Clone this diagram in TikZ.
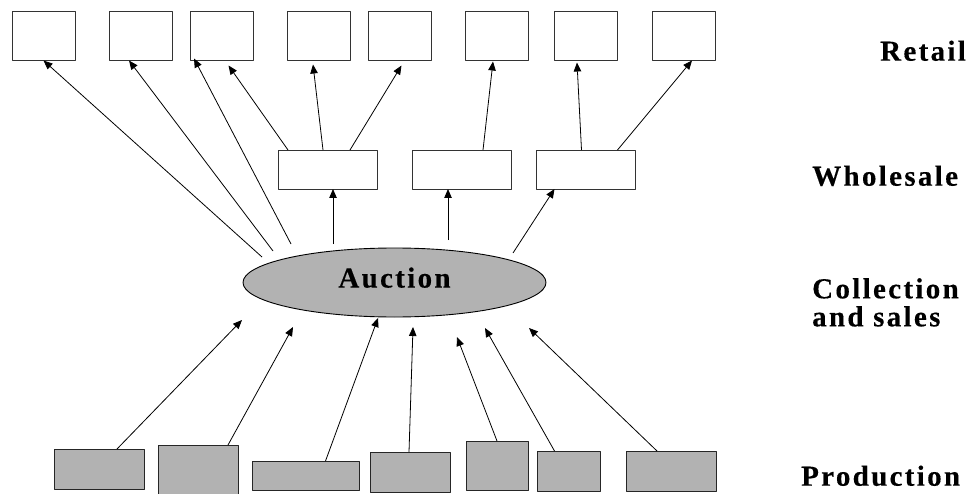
\documentclass[tikz,border=0pt]{standalone}
\usepackage{fontspec}
\setmainfont{Liberation Serif}
\usetikzlibrary{shapes.geometric,arrows.meta}

\begin{document}
\begin{tikzpicture}[x=1pt, y=-1pt, line join=round, >={Triangle[length=9pt,width=7.5pt]},
	retail/.style={draw=black!80, line width=0.9pt, minimum width=63pt, minimum height=49pt, inner sep=0pt, outer sep=0pt},
	whole/.style={retail, minimum width=99pt, minimum height=39pt},
	prod/.style={draw=black!85, line width=0.9pt, fill=black!30, inner sep=0pt, outer sep=0pt},
	tier/.style={font=\fontsize{29}{28}\selectfont\bfseries\addfontfeature{LetterSpace=8,FakeBold=0.3}, inner sep=0pt},
	link/.style={->, line width=0.8pt}]
			\useasboundingbox (0,0) rectangle (973,494);
			\node[retail] (r1) at (43.5,36) {};
			\node[retail] (r2) at (141,36) {};
			\node[retail] (r3) at (221.5,36) {};
			\node[retail] (r4) at (319,36) {};
			\node[retail] (r5) at (399.5,36) {};
			\node[retail] (r6) at (497,36) {};
			\node[retail] (r7) at (586,36) {};
			\node[retail] (r8) at (684,36) {};
			\node[whole] (w1) at (328,169.5) {};
			\node[whole] (w2) at (462,169.5) {};
			\node[whole] (w3) at (585.5,169.5) {};
			\node[ellipse, draw=black, line width=0.9pt, fill=black!30, minimum width=303pt, minimum height=69pt, tier, text depth=10pt] (auc) at (394.5,282.5) {Auction};
			\node[prod, minimum width=90pt, minimum height=40pt] (p1) at (99,469) {};
			\node[prod, minimum width=80pt, minimum height=51pt] (p2) at (198,470.5) {};
			\node[prod, minimum width=107pt, minimum height=29pt] (p3) at (305.5,475.5) {};
			\node[prod, minimum width=80pt, minimum height=40pt] (p4) at (410,472) {};
			\node[prod, minimum width=62pt, minimum height=49pt] (p5) at (497,465.5) {};
			\node[prod, minimum width=63pt, minimum height=40pt] (p6) at (568.5,471) {};
			\node[prod, minimum width=90pt, minimum height=40pt] (p7) at (671,471) {};
			\node[tier, anchor=base west] (lret) at (880,60.7) {Retail};
			\node[tier, anchor=base west] (lwho) at (812,185.7) {Wholesale};
			\node[tier, anchor=north west, align=left] (lcol) at (812,278) {Collection\\and sales};
			\node[tier, anchor=base west] (lpro) at (801,485.7) {Production};
			\coordinate (t1) at (262,257);
			\coordinate (t2) at (273,251);
			\coordinate (t3) at (291,244);
			\coordinate (t4) at (333,244);
			\coordinate (t5) at (448,240);
			\coordinate (t6) at (513,253);
			\coordinate (h1) at (242,320);
			\coordinate (h2) at (293,327);
			\coordinate (h3) at (378,318);
			\coordinate (h4) at (413,327);
			\coordinate (h5) at (457,337);
			\coordinate (h6) at (485,328);
			\coordinate (h7) at (529,328);
			\draw[link] (t1) -- (r1.south);
			\draw[link] (t2) -- ([xshift=-12pt]r2.south);
			\draw[link] (t3) -- ([xshift=4pt,yshift=2pt]r3.south west);
			\draw[link] ([xshift=-40pt]w1.north) -- ([xshift=7pt,yshift=-5pt]r3.south);
			\draw[link] ([xshift=-5pt]w1.north) -- ([xshift=-6pt,yshift=-4pt]r4.south);
			\draw[link] ([xshift=22pt]w1.north) -- ([xshift=2pt,yshift=-5pt]r5.south);
			\draw[link] ([xshift=21pt]w2.north) -- ([xshift=-4pt,yshift=-1pt]r6.south);
			\draw[link] ([xshift=-4pt]w3.north) -- ([xshift=-9pt,yshift=-2pt]r7.south);
			\draw[link] ([xshift=32pt]w3.north) -- ([xshift=8pt]r8.south);
			\draw[link] (t4) -- ([xshift=5pt]w1.south);
			\draw[link] (t5) -- ([xshift=-14pt]w2.south);
			\draw[link] (t6) -- ([xshift=-31pt]w3.south);
			\draw[link] ([xshift=18pt]p1.north) -- (h1);
			\draw[link] ([xshift=30pt]p2.north) -- (h2);
			\draw[link] ([xshift=20pt]p3.north) -- (h3);
			\draw[link] ([xshift=-1pt]p4.north) -- (h4);
			\draw[link] (p5.north) -- (h5);
			\draw[link] ([xshift=-14pt]p6.north) -- (h6);
			\draw[link] ([xshift=-14pt]p7.north) -- (h7);
		\end{tikzpicture}
\end{document}
